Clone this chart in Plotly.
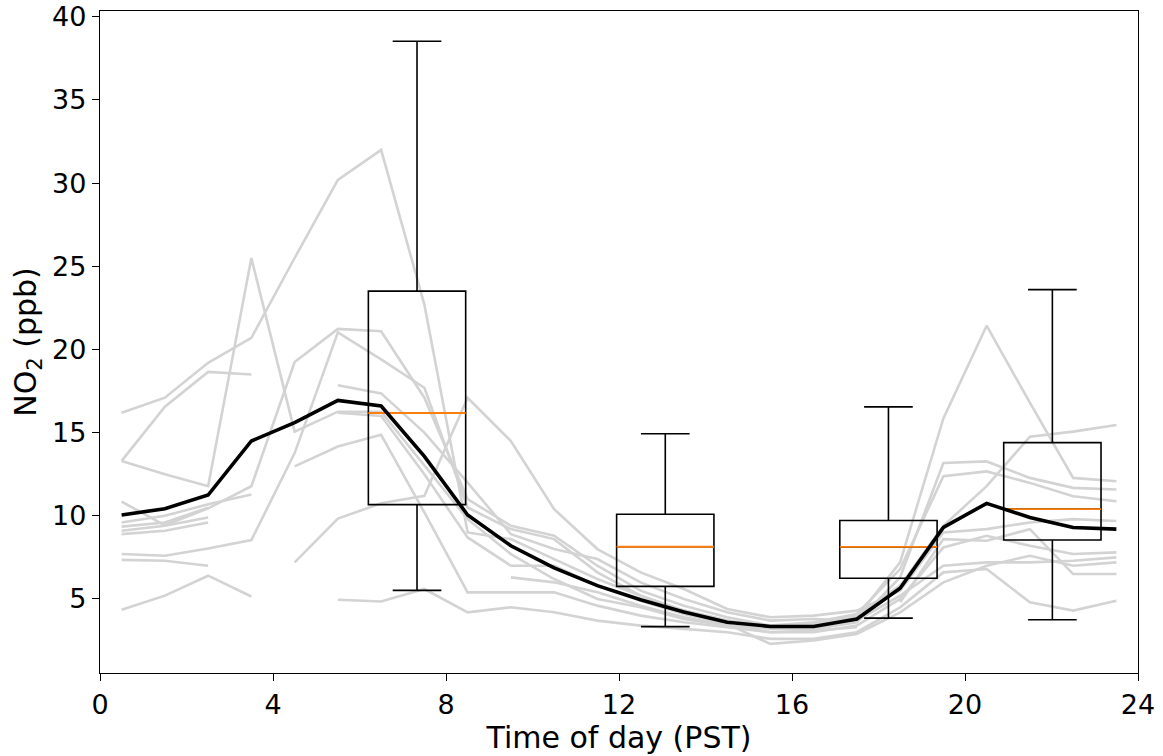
import plotly.graph_objects as go

hours = [h + 0.5 for h in range(24)]
N = None

# individual daily NO2 profiles (ppb), None = missing
day_profiles = [
    [16.2, 17.1, 19.2, 20.7, 25.5, 30.2, 32.0, 22.7, 9.0, 8.6, 7.4, 6.2, 5.2, 4.3, 3.7, 3.3, 3.4, 3.9, 7.2, 15.86, 21.43, 16.8, 12.28, 12.08],
    [13.3, 12.5, 11.78, 25.5, 15.06, 16.26, 16.26, 13.0, 9.8, 7.7, 6.2, 5.0, 4.5, 3.8, 3.4, 3.2, 3.2, 3.6, 6.3, 13.18, 13.27, 12.28, 11.68, 11.58],
    [13.3, 16.56, 18.65, 18.5, N, N, N, N, N, N, N, N, N, N, N, N, N, N, N, N, N, N, N, N],
    [10.85, 9.43, 10.45, 11.78, 19.25, 21.24, 21.1, 17.1, 11.0, 9.4, 8.8, 7.0, 5.5, 4.6, 3.9, 3.4, 3.6, 4.1, 6.8, 12.38, 12.67, 11.98, 11.18, 10.88],
    [7.7, 7.6, 8.04, 8.54, 13.77, 21.03, 19.4, 17.7, 10.5, 9.2, 8.6, 6.6, 5.2, 4.3, 3.7, 3.3, 3.5, 4.0, 5.8, 9.4, 11.78, 14.76, 15.06, 15.46],
    [N, N, N, N, 7.2, 9.83, 10.75, 11.2, 17.1, 14.5, 10.4, 8.0, 6.6, 5.6, 4.4, 3.9, 4.0, 4.3, 5.5, 9.0, 9.2, 9.6, 9.8, 9.69],
    [N, N, N, N, N, 4.95, 4.85, 5.6, 4.2, 4.5, 4.2, 3.7, 3.4, 3.2, 3.0, 2.6, 2.6, 3.0, 4.5, 6.6, 6.8, 4.8, 4.3, 4.9],
    [N, N, N, N, 12.97, 14.17, 14.87, 10.2, 5.4, 5.4, 5.4, 4.6, 4.0, 3.6, 3.3, 3.0, 3.0, 3.4, 5.0, 8.1, 8.8, 8.2, 7.7, 7.8],
    [9.6, 10.0, 10.69, 11.28, N, 17.85, 17.36, 15.0, 12.0, 8.9, 8.0, 7.4, 6.0, 5.0, 4.2, 3.7, 3.8, 3.7, 5.2, 7.0, 7.2, 7.2, 7.3, 7.5],
    [9.35, 9.6, 10.49, N, N, 16.2, 16.0, 12.5, 8.7, 7.0, 7.0, 5.8, 4.9, 4.1, 3.5, 2.3, 2.5, 2.9, 4.2, 6.0, 7.0, 7.6, 7.0, 7.2],
    [9.1, 9.4, 9.9, N, N, N, N, N, N, N, N, N, N, N, N, N, N, N, 4.8, 8.6, 8.5, 9.2, 6.5, 6.5],
    [8.9, 9.1, 9.6, N, N, N, N, N, N, 6.3, 6.0, 5.4, 4.6, 3.9, 3.4, 3.0, 3.1, 3.3, N, N, N, N, N, N],
    [7.35, 7.3, 7.0, N, N, N, N, N, N, N, N, N, N, N, N, N, N, N, N, N, N, N, N, N],
    [4.35, 5.2, 6.4, 5.15, N, N, N, N, N, N, N, N, N, N, N, N, N, N, N, N, N, N, N, N],
]

mean_profile = [10.05, 10.43, 11.25, 14.5, 15.6, 16.94, 16.6, 13.57, 10.05, 8.2, 6.87, 5.8, 4.95, 4.22, 3.6, 3.35, 3.35, 3.8, 5.65, 9.3, 10.75, 9.9, 9.3, 9.2]

# box statistics for four time windows
box_pos = [7.33, 13.07, 18.23, 22.02]
box_width = 2.25
box_low = [5.52, 3.34, 3.85, 3.75]
box_q1 = [10.67, 5.76, 6.25, 8.55]
box_med = [16.18, 8.14, 8.13, 10.4]
box_q3 = [23.51, 10.09, 9.72, 14.4]
box_high = [38.53, 14.93, 16.55, 23.6]

x_ticks = [0, 4, 8, 12, 16, 20, 24]
y_ticks = [5, 10, 15, 20, 25, 30, 35, 40]

X_RANGE = [0, 24]
Y_RANGE = [0.55, 40.35]

fig = go.Figure()

# background daily profiles on the base axes
for prof in day_profiles:
    fig.add_trace(go.Scatter(x=hours, y=prof, mode="lines",
                             line=dict(color="#d3d3d3", width=2.6),
                             connectgaps=False, hoverinfo="skip", showlegend=False))

# boxes, medians and mean on an overlaid axis pair so they sit above the grey lines
for i in range(len(box_pos)):
    fig.add_trace(go.Box(x=[box_pos[i]], q1=[box_q1[i]], median=[box_med[i]],
                         q3=[box_q3[i]], lowerfence=[box_low[i]], upperfence=[box_high[i]],
                         width=box_width, whiskerwidth=0.5, boxpoints=False,
                         line=dict(color="black", width=1.6),
                         fillcolor="rgba(0,0,0,0)", showlegend=False,
                         xaxis="x2", yaxis="y2"))
    fig.add_trace(go.Scatter(x=[box_pos[i] - box_width / 2, box_pos[i] + box_width / 2],
                             y=[box_med[i], box_med[i]], mode="lines",
                             line=dict(color="#ff7f0e", width=1.8), showlegend=False,
                             xaxis="x2", yaxis="y2"))

fig.add_trace(go.Scatter(x=hours, y=mean_profile, mode="lines",
                         line=dict(color="black", width=3.6), showlegend=False,
                         xaxis="x2", yaxis="y2"))

tickfont = dict(family="DejaVu Sans", size=27, color="black")
axis_common = dict(showline=True, linecolor="black", linewidth=1.3, mirror=True,
                   ticks="outside", ticklen=7, tickwidth=1.3, tickcolor="black",
                   showgrid=False, zeroline=False, automargin=False, tickfont=tickfont)

fig.update_layout(
    width=1163, height=756,
    margin=dict(l=100, r=25, t=11, b=83),
    plot_bgcolor="white", paper_bgcolor="white",
    font=dict(family="DejaVu Sans", color="black"),
    xaxis=dict(range=X_RANGE, tickvals=x_ticks,
               title=dict(text="Time of day (PST)", font=dict(family="DejaVu Sans", size=30), standoff=0),
               **axis_common),
    yaxis=dict(range=Y_RANGE, tickvals=y_ticks,
               title=dict(text="NO<sub>2</sub> (ppb)", font=dict(family="DejaVu Sans", size=30), standoff=6),
               **axis_common),
    xaxis2=dict(range=X_RANGE, overlaying="x", visible=False),
    yaxis2=dict(range=Y_RANGE, overlaying="y", visible=False),
)

fig.write_html("out.html")
